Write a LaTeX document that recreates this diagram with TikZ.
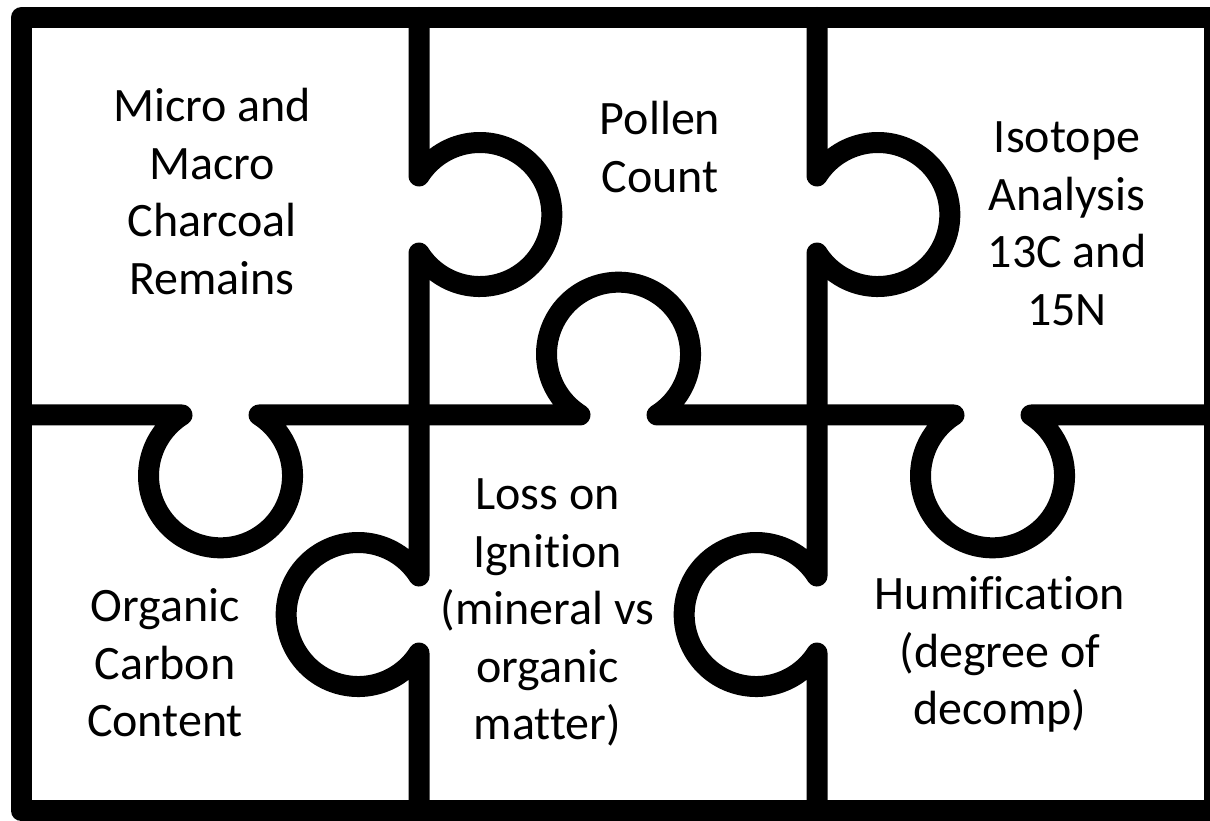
\documentclass[tikz,border=0pt]{standalone}
\usepackage{fontspec}
\setmainfont{Carlito}[Ligatures=NoCommon]
\begin{document}
\begin{tikzpicture}[x=1pt,y=1pt,
  edge/.style={draw=black, line width=21pt, line join=round, line cap=round},
  lbl/.style={inner sep=0pt, align=center, text=black, font=\fontsize{48}{57.5}\selectfont}]
\useasboundingbox (0,0) rectangle (1210,821);
\fill[white] (0,0) rectangle (1210,821);
% outer frame
\draw[edge] (21.5,10) rectangle (1214,803.5);
% left vertical divider
\draw[edge] (419,803.5) -- (419,645)
  arc[start angle=147.65, end angle=-147.65, radius=72pt] -- (419,245)
  arc[start angle=32.35, end angle=327.65, radius=72pt] -- (419,10);
% right vertical divider
\draw[edge] (817,803.5) -- (817,645)
  arc[start angle=147.65, end angle=-147.65, radius=72pt] -- (817,245)
  arc[start angle=32.35, end angle=327.65, radius=72pt] -- (817,10);
% horizontal divider
\draw[edge] (21.5,406) -- (182,406)
  arc[start angle=122.35, end angle=417.65, radius=72pt] -- (580,406)
  arc[start angle=237.65, end angle=-57.65, radius=72pt] -- (954,406)
  arc[start angle=122.35, end angle=417.65, radius=72pt] -- (1214,406);
% labels
\node[lbl] (charcoal) at (212,624.25) {\strut Micro and\\\strut Macro\\\strut Charcoal\\\strut Remains};
\node[lbl] (pollen) at (660,668.75) {\strut Pollen\\\strut Count};
\node[lbl] (isotope) at (1067,593.25) {\strut Isotope\\\strut Analysis\\\strut 13C and\\\strut 15N};
\node[lbl] (organic) at (165,153) {\strut Organic\\\strut Carbon\\\strut Content};
\node[lbl] (loss) at (547.5,207.5) {\strut Loss on\\\strut Ignition\\\strut (mineral vs\\\strut organic\\\strut matter)};
\node[lbl] (humif) at (1000,165) {\strut Humification\\\strut (degree of\\\strut decomp)};
\end{tikzpicture}
\end{document}
